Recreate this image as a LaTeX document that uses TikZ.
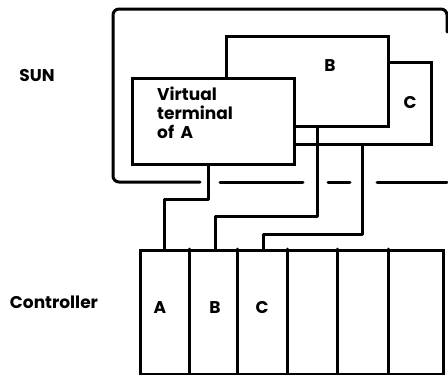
\documentclass[tikz,border=0pt]{standalone}
\usepackage{fontspec}
\setmainfont{Poppins}
\begin{document}
\begin{tikzpicture}[x=1pt,y=-1pt,
  wire/.style={line width=3pt, line cap=round, line join=round},
  panel/.style={draw, line width=3pt, fill=white},
  lbl/.style={font=\fontsize{17}{19}\selectfont\bfseries, inner sep=0pt}]
\useasboundingbox (0,0) rectangle (448,375);
% outer SUN box
\draw[wire, rounded corners=6pt] (200,182) -- (113,182) -- (113,9) -- (447,9) -- (447,32);
\coordinate (d1a) at (220,182); \coordinate (d1b) at (303,182);
\coordinate (d2a) at (328,182); \coordinate (d2b) at (350,182);
\coordinate (d3a) at (377,182); \coordinate (d3b) at (447,182);
\draw[wire] (d1a) -- (d1b);
\draw[wire] (d2a) -- (d2b);
\draw[wire] (d3a) -- (d3b);
% windows
\node[panel, minimum width=153pt, minimum height=82pt, anchor=north east] (C) at (433,61) {};
\node[panel, minimum width=162pt, minimum height=90pt, anchor=north west] (B) at (225,35) {};
\node[panel, minimum width=162pt, minimum height=86pt, anchor=north west] (A) at (131,77) {};
\node[lbl] (Bl) at (330,66) {B};
\node[lbl] (Cl) at (410,103) {C};
\node[lbl, anchor=north west, align=left] (Al) at (157,87) {Virtual\\terminal\\of\ \,A};
% labels
\node[lbl] (sun) at (37,76) {SUN};
\node[lbl] (ctl) at (54,302) {Controller};
% controller
\node[panel, minimum width=303pt, minimum height=124pt, anchor=north west] (K) at (139,249) {};
\foreach \x in {189,237,287,337,388} \draw[wire] (\x,249) -- (\x,373);
\node[lbl] (KA) at (160,308) {A};
\node[lbl] (KB) at (215,308) {B};
\node[lbl] (KC) at (262,308) {C};
% wires
\coordinate (ka) at (164,249); \coordinate (kb) at (215,249); \coordinate (kc) at (263,249);
\draw[wire] (A.south -| 208,0) |- (164,199) -- (ka);
\draw[wire] (B.south -| 317,0) |- (215,216) -- (kb);
\draw[wire] (C.south -| 362,0) |- (263,234) -- (kc);
\end{tikzpicture}
\end{document}
